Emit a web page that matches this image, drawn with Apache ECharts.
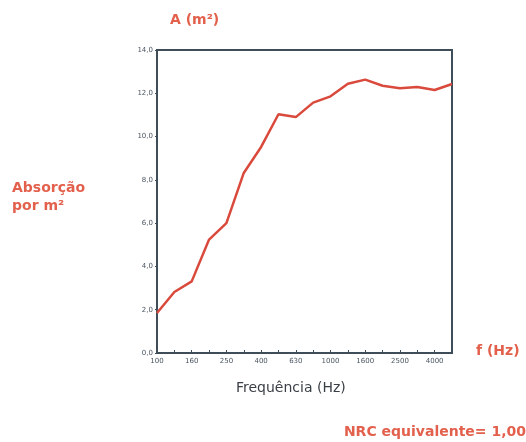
<!DOCTYPE html>
<html>
<head>
<meta charset="utf-8">
<script src="https://cdn.jsdelivr.net/npm/echarts@6/dist/echarts.min.js"></script>
<style>html,body{margin:0;padding:0;background:#fff;}#c{width:526px;height:442px;}</style>
</head>
<body>
<div id="c"></div>
<script>
const frequencies = ['100','125','160','200','250','315','400','500','630','800','1000','1250','1600','2000','2500','3150','4000','5000'];
const absorption = [1.85, 2.82, 3.31, 5.24, 6.0, 8.32, 9.52, 11.03, 10.9, 11.57, 11.86, 12.44, 12.63, 12.35, 12.23, 12.29, 12.15, 12.43];
const yTicks = { min: 0, max: 14, step: 2 };

const red = '#e2604c';
const axisCol = '#3f4d58';
const wide = '"DejaVu Sans", Verdana, sans-serif';

const chart = echarts.init(document.getElementById('c'));
chart.setOption({
  animation: false,
  backgroundColor: '#fff',
  grid: { left: 157, right: 74, top: 50, bottom: 89, show: true, borderColor: axisCol, borderWidth: 2, backgroundColor: 'transparent' },
  xAxis: {
    type: 'category', data: frequencies, boundaryGap: false,
    axisLine: { lineStyle: { color: axisCol, width: 2 } },
    axisTick: { interval: 0, length: 3, inside: true, lineStyle: { color: axisCol, width: 1 } },
    axisLabel: { interval: 1, color: '#4a5560', fontSize: 7, fontFamily: wide, margin: 5 },
    splitLine: { show: false }
  },
  yAxis: {
    type: 'value', min: yTicks.min, max: yTicks.max, interval: yTicks.step,
    axisLine: { show: true, lineStyle: { color: axisCol, width: 2 } },
    axisTick: { show: true, length: 2, lineStyle: { color: axisCol, width: 1 } },
    axisLabel: { color: '#4a5560', fontSize: 7, fontFamily: wide, margin: 4,
      formatter: v => v.toFixed(1).replace('.', ',') },
    splitLine: { show: false }
  },
  series: [{
    type: 'line', data: absorption, symbol: 'none',
    lineStyle: { color: '#d94a3c', width: 2.5 }
  }],
  graphic: [
    { type: 'text', left: 170, top: 13, style: { text: 'A (m²)', fill: red, font: 'bold 14px ' + wide } },
    { type: 'text', left: 12, top: 179, style: { text: 'Absorção\npor m²', fill: red, font: 'bold 14px ' + wide, lineHeight: 18 } },
    { type: 'text', left: 476, top: 344, style: { text: 'f (Hz)', fill: red, font: 'bold 14px ' + wide } },
    { type: 'text', left: 236, top: 381, style: { text: 'Frequência (Hz)', fill: '#3a3f45', font: '400 14px ' + wide } },
    { type: 'text', right: 0, top: 425, style: { text: 'NRC equivalente= 1,00', fill: red, font: 'bold 14px ' + wide } }
  ]
});
</script>
</body>
</html>
